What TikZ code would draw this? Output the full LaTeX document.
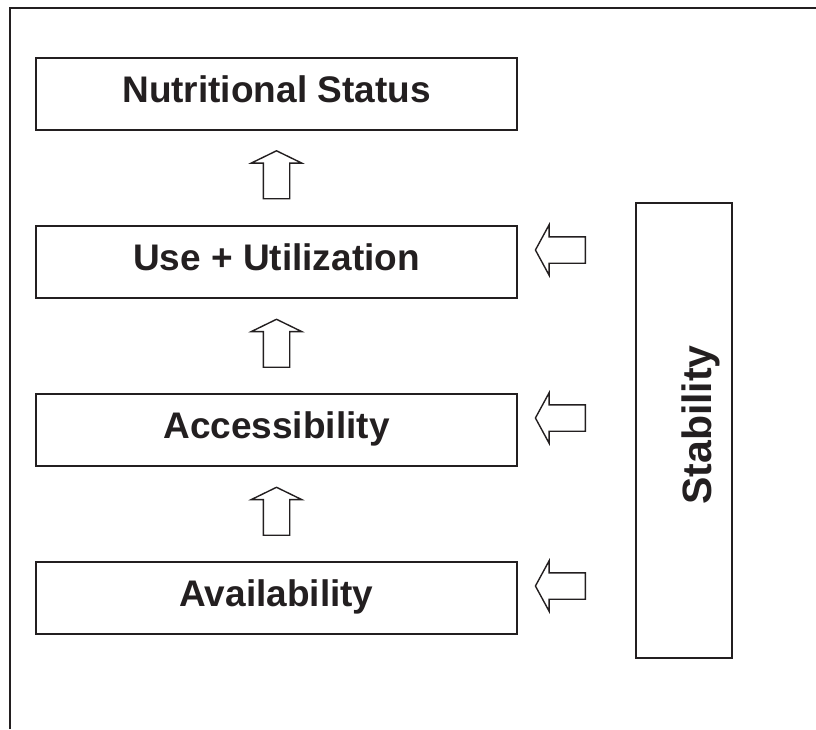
\documentclass[tikz,border=0pt]{standalone}
\usepackage{fontspec}
\setmainfont{Liberation Sans}
\usetikzlibrary{shapes.arrows}
\definecolor{ink}{HTML}{231F20}
\tikzstyle{block} = [draw=ink, line width=1.6pt, text=ink,
    minimum width=481pt, minimum height=72pt,
    text height=26pt, text depth=10pt,
    font=\fontsize{37}{40}\selectfont\bfseries]
\tikzstyle{fatarrow} = [draw=ink, line width=1.4pt, single arrow,
    single arrow head extend=12pt, single arrow tip angle=128,
    inner xsep=0pt, inner ysep=12.5pt, minimum height=48pt]
\def\boxx{276.5}
\def\inx{564}

\begin{document}
\begin{tikzpicture}[x=1pt,y=-1pt]
    \useasboundingbox (0,0) rectangle (816,729);
    % draw frame
    \draw[ink, line width=2.2pt] (10,729) -- (10,8) -- (816,8);
    % draw rectangle nodes
    \node[block] (status) at (\boxx,94) {Nutritional Status};
    \node[block] (use) at (\boxx,262) {Use + Utilization};
    \node[block] (access) at (\boxx,430) {Accessibility};
    \node[block] (avail) at (\boxx,598) {Availability};
    \node[draw=ink, line width=1.6pt, minimum width=96pt,
        minimum height=455pt] (stab) at (684,430.5) {};
    \node[text=ink, rotate=90, font=\fontsize{41}{44}\selectfont\bfseries]
        (stablabel) at (701,425) {Stability};
    % draw block arrows
    \node[fatarrow, rotate=90] (up1) at (\boxx,178) {};
    \node[fatarrow, rotate=90] (up2) at (\boxx,346.5) {};
    \node[fatarrow, rotate=90] (up3) at (\boxx,514.5) {};
    \node[fatarrow, rotate=180, minimum height=50pt,
        single arrow tip angle=123] (in1) at (\inx,250) {};
    \node[fatarrow, rotate=180, minimum height=50pt,
        single arrow tip angle=123] (in2) at (\inx,418) {};
    \node[fatarrow, rotate=180, minimum height=50pt,
        single arrow tip angle=123] (in3) at (\inx,586) {};
\end{tikzpicture}
\end{document}
